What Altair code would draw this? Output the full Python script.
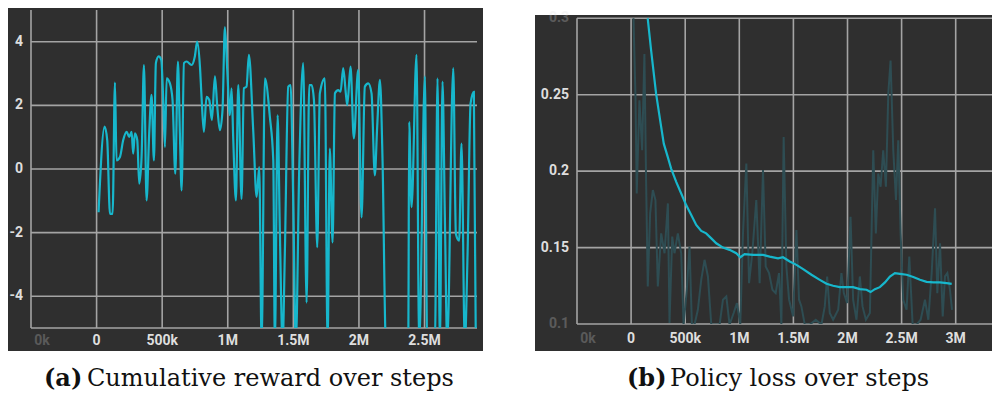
import altair as alt
import pandas as pd

# ---------------- data ----------------
# (a) cumulative reward, steps in thousands
reward_steps_k = [15, 61, 81, 102, 122, 140, 152, 178, 203, 229, 249, 267, 279, 292, 310, 325, 343, 361, 381, 401,
                  419, 437, 452, 473, 493, 508, 521, 534, 559, 579, 600, 620, 635, 648, 666, 686, 724, 749, 767, 788,
                  800, 818, 838, 859, 879, 902, 920, 940, 960, 978, 996, 1016, 1029, 1042, 1062, 1080, 1105, 1123, 1143, 1161,
                  1194, 1220, 1240, 1258, 1283, 1321, 1347, 1359, 1380, 1397, 1418, 1435, 1461, 1479, 1499, 1519, 1545, 1575, 1601, 1621,
                  1639, 1657, 1682, 1702, 1740, 1761, 1778, 1799, 1817, 1842, 1860, 1880, 1900, 1911, 1936, 1961, 1994, 2020, 2045, 2071,
                  2096, 2121, 2139, 2160, 2180, 2205, 2287, 2376, 2383, 2401, 2439, 2459, 2503, 2520, 2579, 2599, 2617, 2637, 2655, 2673,
                  2719, 2739, 2764, 2782, 2807, 2828, 2851, 2876, 2891]
reward_values = [-1.36, 1.33, 0.91, -1.41, -1.41, 2.72, 0.27, 0.38, 0.91, 1.17, 1.01, 1.17, 0.48, 1.12, 0.91, -0.46, 0.38, 3.27, -0.99, 1.12,
                 2.33, 0.27, 3.33, 3.54, 3.43, 2.17, 0.69, 2.85, 2.69, 2.17, -0.15, 3.38, 1.12, -0.67, 3.33, 3.38, 3.27, 3.54, 4.01, 3.22,
                 2.27, 1.17, 2.27, 2.17, 1.54, 2.91, 1.96, 1.22, 1.85, 4.46, 3.12, 1.69, 2.54, 0.91, -0.99, 2.64, -0.94, 2.54, 2.59, 3.59,
                 1.22, -0.88, 0.06, -5.5, 2.85, 1.64, 0.27, -5.5, 1.69, -1.94, -5.5, -2.67, 2.59, 2.64, -0.99, -5.5, 0.06, 3.33, -4.2, 2.64,
                 2.64, 2.17, -2.46, 2.38, 2.85, -5.5, 0.64, -2.31, 2.38, 2.48, 2.43, 3.17, 2.38, 2.01, 3.22, 0.96, 3.12, -1.52, 2.59, 2.69,
                 2.38, -0.2, 1.33, 2.8, 0.27, -5.5, -6.3, -5.5, 1.48, -1.2, 3.59, -5.5, 2.91, -5.5, -5.5, 2.85, -5.5, 2.75, -1.5, -5.5,
                 3.17, -2.04, -2.25, 0.8, -5.5, -2.67, 2.06, 2.43, -5.5]

# (b) policy loss: smoothed curve and raw (faded) curve, steps in thousands
loss_steps_k = [150, 154, 185, 231, 269, 302, 340, 370, 417, 463, 509, 556, 602, 648, 694, 741, 787, 849, 910, 972,
                1009, 1049, 1127, 1219, 1281, 1358, 1404, 1466, 1528, 1590, 1667, 1744, 1806, 1867, 1929, 1991, 2052, 2114, 2176, 2213,
                2253, 2299, 2346, 2392, 2438, 2485, 2546, 2608, 2670, 2731, 2793, 2855, 2917, 2963]
loss_smoothed = [0.300, 0.2996, 0.279, 0.2507, 0.233, 0.218, 0.209, 0.2017, 0.193, 0.1854, 0.1778, 0.1713, 0.1648, 0.1609, 0.1593, 0.156, 0.1528, 0.150, 0.1485, 0.1463,
                 0.1437, 0.1457, 0.1452, 0.1452, 0.1441, 0.143, 0.1437, 0.1409, 0.1387, 0.1359, 0.1322, 0.1289, 0.1263, 0.125, 0.1241, 0.1241, 0.1241, 0.1228, 0.1224, 0.1209,
                 0.1228, 0.1241, 0.1272, 0.1311, 0.1333, 0.1328, 0.1322, 0.1307, 0.1289, 0.1276, 0.1272, 0.1272, 0.1267, 0.1263]
loss_raw_steps_k = [22, 40, 52, 77, 102, 123, 139, 154, 176, 201, 225, 247, 278, 309, 340, 355, 380, 401, 432, 463,
                    485, 515, 540, 562, 586, 617, 648, 679, 710, 741, 772, 818, 849, 880, 910, 948, 978, 1009, 1034, 1065,
                    1090, 1120, 1157, 1188, 1219, 1244, 1275, 1306, 1336, 1367, 1389, 1410, 1435, 1460, 1497, 1528, 1552, 1574, 1605, 1651,
                    1707, 1759, 1790, 1812, 1836, 1867, 1914, 1944, 1966, 1997, 2028, 2052, 2083, 2114, 2139, 2170, 2207, 2238, 2262, 2284,
                    2306, 2330, 2355, 2377, 2398, 2423, 2448, 2469, 2491, 2515, 2546, 2571, 2602, 2639, 2676, 2716, 2747, 2778, 2809, 2830,
                    2855, 2880, 2901, 2923, 2947, 2966]
loss_raw = [0.300, 0.2507, 0.1854, 0.2463, 0.2137, 0.2767, 0.192, 0.1246, 0.1724, 0.1876, 0.1811, 0.1246, 0.1593, 0.1463, 0.1789, 0.1006, 0.1572, 0.1463, 0.1593, 0.1463,
            0.0996, 0.1224, 0.1506, 0.0996, 0.0996, 0.1093, 0.1289, 0.142, 0.1311, 0.0996, 0.0996, 0.0996, 0.1159, 0.118, 0.0996, 0.1072, 0.1137, 0.0996, 0.1593, 0.205,
            0.1267, 0.1463, 0.1811, 0.1267, 0.2007, 0.1376, 0.1333, 0.1224, 0.1202, 0.1333, 0.0996, 0.2224, 0.1376, 0.1159, 0.105, 0.1615, 0.1159, 0.1115, 0.0996, 0.0996,
            0.1028, 0.0996, 0.1115, 0.1311, 0.1072, 0.1028, 0.1093, 0.1333, 0.1202, 0.1137, 0.1702, 0.1159, 0.1028, 0.1311, 0.1115, 0.1028, 0.1072, 0.2137, 0.1593, 0.1985,
            0.1898, 0.2137, 0.1898, 0.2507, 0.2724, 0.2137, 0.1811, 0.2202, 0.1593, 0.1159, 0.1093, 0.1441, 0.0996, 0.0996, 0.1028, 0.1159, 0.1028, 0.1333, 0.1757, 0.1202,
            0.1528, 0.105, 0.1311, 0.1333, 0.1224, 0.1093]

# ticks / labels
reward_x_ticks = [-500000, 0, 500000, 1000000, 1500000, 2000000, 2500000]
reward_x_labels = ["0k", "0", "500k", "1M", "1.5M", "2M", "2.5M"]
reward_x_faded = [True, False, False, False, False, False, False]
reward_y_ticks = [-4, -2, 0, 2, 4]
reward_y_labels = ["-4", "-2", "0", "2", "4"]
reward_y_faded = [False, False, False, False, False]
reward_y_grid = [-5, -4, -2, 0, 2, 4]
reward_x_domain = [-500000, 2900000]
reward_y_domain = [-5, 5]

loss_x_ticks = [-500000, 0, 500000, 1000000, 1500000, 2000000, 2500000, 3000000]
loss_x_labels = ["0k", "0", "500k", "1M", "1.5M", "2M", "2.5M", "3M"]
loss_x_faded = [True, False, False, False, False, False, False, False]
loss_y_ticks = [0.1, 0.15, 0.2, 0.25, 0.3]
loss_y_labels = ["0.1", "0.15", "0.2", "0.25", "0.3"]
loss_y_faded = [True, False, False, False, True]
loss_y_grid = [0.1, 0.15, 0.2, 0.25, 0.3]
loss_x_domain = [-500000, 3335490]
loss_y_domain = [0.1, 0.3]

caption_a = ["(a)", "Cumulative reward over steps"]
caption_b = ["(b)", "Policy loss over steps"]

# ---------------- style ----------------
BG = "#2f2f2f"
GRID = "#a4a4a4"
CYAN = "#17b7cc"
RAW = "#2e4d53"
LABEL = "#dedede"
FADED = "#5a5a5a"
LABEL_FONT = "Roboto"
CAP_FONT = "DejaVu Serif"
CAP_SIZE = 24


def panel(xs, ys, xdom, ydom, xticks, xlabels, xfaded, yticks, ylabels, yfaded, ygrid, lines,
          bg_box, width, height, x_lab_y, y_lab_x, caption, cap_x, cap_y):
    one = alt.Data(values=[{"k": 0}])
    bg = alt.Chart(one).mark_rect(color=BG).encode(
        x=alt.value(bg_box[0]), x2=alt.value(bg_box[1]), y=alt.value(bg_box[2]), y2=alt.value(bg_box[3]))
    vgrid = alt.Chart(pd.DataFrame({"v": xticks})).mark_rule(color=GRID, strokeWidth=1.6).encode(
        x=alt.X("v:Q", scale=xs, axis=None),
        y=alt.YDatum(ydom[1], scale=ys, axis=None), y2=alt.Y2Datum(ydom[0]))
    hgrid = alt.Chart(pd.DataFrame({"v": ygrid})).mark_rule(color=GRID, strokeWidth=1.6).encode(
        y=alt.Y("v:Q", scale=ys, axis=None),
        x=alt.XDatum(xdom[0], scale=xs, axis=None), x2=alt.X2Datum(xdom[1]))

    xl = pd.DataFrame({"v": xticks, "t": xlabels, "f": xfaded})
    yl = pd.DataFrame({"v": yticks, "t": ylabels, "f": yfaded})
    tick_style = dict(font=LABEL_FONT, fontSize=14, fontWeight="bold", baseline="middle")
    xlab = alt.Chart(xl[~xl.f]).mark_text(align="center", color=LABEL, **tick_style).encode(
        x=alt.X("v:Q", scale=xs, axis=None), y=alt.value(x_lab_y), text="t:N")
    xlab_f = alt.Chart(xl[xl.f]).mark_text(align="center", color=FADED, dx=11, **tick_style).encode(
        x=alt.X("v:Q", scale=xs, axis=None), y=alt.value(x_lab_y), text="t:N")
    ylab = alt.Chart(yl[~yl.f]).mark_text(align="right", color=LABEL, **tick_style).encode(
        y=alt.Y("v:Q", scale=ys, axis=None), x=alt.value(y_lab_x), text="t:N")
    layers = [bg, vgrid, hgrid] + lines + [xlab, xlab_f, ylab]
    if yl.f.any():
        ylab_f = alt.Chart(yl[yl.f]).mark_text(align="right", color=LABEL, opacity=0.25, **tick_style).encode(
            y=alt.Y("v:Q", scale=ys, axis=None), x=alt.value(y_lab_x), text="t:N")
        layers.append(ylab_f)

    cap_df = pd.DataFrame({"t": caption})
    cap1 = alt.Chart(cap_df.iloc[[0]]).mark_text(font=CAP_FONT, fontSize=CAP_SIZE, fontWeight="bold", align="left",
                                                  baseline="alphabetic", color="#111111").encode(
        text="t:N", x=alt.value(cap_x[0]), y=alt.value(cap_y))
    cap2 = alt.Chart(cap_df.iloc[[1]]).mark_text(font=CAP_FONT, fontSize=CAP_SIZE, align="left",
                                                  baseline="alphabetic", color="#111111").encode(
        text="t:N", x=alt.value(cap_x[1]), y=alt.value(cap_y))
    layers += [cap1, cap2]
    return alt.layer(*layers).properties(width=width, height=height)


# left panel: plot area 446 x 318
W1, H1 = 446, 318
xs1 = alt.Scale(domain=reward_x_domain, nice=False, zero=False)
ys1 = alt.Scale(domain=reward_y_domain, nice=False, zero=False)
reward_df = pd.DataFrame({"step": [s * 1000 for s in reward_steps_k], "reward": reward_values})
reward_line = alt.Chart(reward_df).mark_line(color=CYAN, strokeWidth=2.2, clip=True, interpolate="monotone").encode(
    x=alt.X("step:Q", scale=xs1, axis=None), y=alt.Y("reward:Q", scale=ys1, axis=None))
left = panel(xs1, ys1, reward_x_domain, reward_y_domain, reward_x_ticks, reward_x_labels, reward_x_faded,
             reward_y_ticks, reward_y_labels, reward_y_faded, reward_y_grid, [reward_line],
             [-23, 452, -2, 341], W1, H1, 330.7, -8, caption_a, [13, 56], 376)

# right panel: plot area 415 wide, 0.3..0.1 mapped to 8.3..314
W2, H2 = 415, 314
xs2 = alt.Scale(domain=loss_x_domain, nice=False, zero=False)
ys2 = alt.Scale(domain=loss_y_domain, range=[314, 8.3], nice=False, zero=False)
raw_df = pd.DataFrame({"step": [s * 1000 for s in loss_raw_steps_k], "loss": loss_raw})
smooth_df = pd.DataFrame({"step": [s * 1000 for s in loss_steps_k], "loss": loss_smoothed})
raw_line = alt.Chart(raw_df).mark_line(color=RAW, strokeWidth=2, clip=True).encode(
    x=alt.X("step:Q", scale=xs2, axis=None), y=alt.Y("loss:Q", scale=ys2, axis=None))
smooth_line = alt.Chart(smooth_df).mark_line(color=CYAN, strokeWidth=2.2, clip=True).encode(
    x=alt.X("step:Q", scale=xs2, axis=None), y=alt.Y("loss:Q", scale=ys2, axis=None))
right = panel(xs2, ys2, loss_x_domain, loss_y_domain, loss_x_ticks, loss_x_labels, loss_x_faded,
              loss_y_ticks, loss_y_labels, loss_y_faded, loss_y_grid, [raw_line, smooth_line],
              [-42, 415, 5, 341], W2, H2, 329.3, -8, caption_b, [50, 93], 376)

chart = alt.hconcat(left, right, spacing=100, bounds="flush").properties(padding=0).configure_view(
    stroke="transparent", strokeWidth=0)

chart.save("out.html", embed_options={"renderer": "svg", "actions": False})
